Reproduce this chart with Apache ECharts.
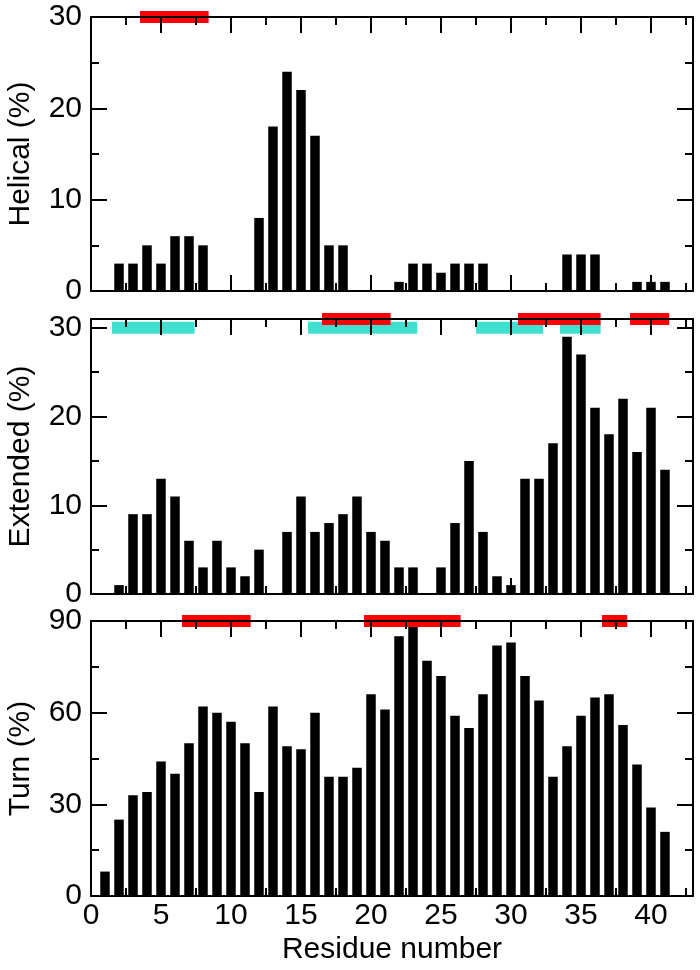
<!DOCTYPE html>
<html>
<head>
<meta charset="utf-8">
<script src="https://cdn.jsdelivr.net/npm/echarts@6/dist/echarts.min.js"></script>
<style>
  html, body { margin: 0; padding: 0; background: #fff; }
  #main { width: 700px; height: 970px; }
</style>
</head>
<body>
<div id="main"></div>
<script>
// residue numbers
const residues = [1,2,3,4,5,6,7,8,9,10,11,12,13,14,15,16,17,18,19,20,21,22,23,24,25,26,27,28,29,30,31,32,33,34,35,36,37,38,39,40,41];
// percentages per residue
const helical  = [0,3,3,5,3,6,6,5,0,0,0,8,18,24,22,17,5,5,0,0,0,1,3,3,2,3,3,3,0,0,0,0,0,4,4,4,0,0,1,1,1];
const extended = [0,1,9,9,13,11,6,3,6,3,2,5,0,7,11,7,8,9,11,7,6,3,3,0,3,8,15,7,2,1,13,13,17,29,27,21,18,22,16,21,14];
const turn     = [8,25,33,34,44,40,50,62,60,57,50,34,62,49,48,60,39,39,42,66,61,85,88,77,72,59,55,66,82,83,72,64,39,49,59,65,66,56,43,29,21];

// segments [start, end, level]
const helicalRed  = [[3.5, 8.4, 30]];
const extendedRed = [[16.5, 21.4, 31], [30.5, 36.4, 31], [38.5, 41.3, 31]];
const extendedCyan = [[1.5, 7.4, 30], [15.5, 23.3, 30], [27.5, 32.3, 30], [33.5, 36.4, 30]];
const turnRed     = [[6.5, 11.4, 90], [19.5, 26.4, 90], [36.5, 38.3, 90]];

const yMax = [30, 31, 90];
const yMajor = [10, 10, 30];
const yNames = ['Helical (%)', 'Extended (%)', 'Turn (%)'];

const font = 'Liberation Sans, Arial, Helvetica, sans-serif';
const lineStyle = { color: '#000', width: 2 };

const chart = echarts.init(document.getElementById('main'));

let grids = [
  { left: 91, right: 7, top: 17, height: 274, outerBoundsMode: 'none' },
  { left: 91, right: 7, top: 319, height: 275, outerBoundsMode: 'none' },
  { left: 91, right: 7, top: 621, height: 275, outerBoundsMode: 'none' }
];

let xAxes = [];
let yAxes = [];
for (let i = 0; i < 3; i++) {
  ['bottom', 'top'].forEach((pos) => {
    [5, 2.5].forEach((iv) => {
      let major = iv === 5;
      let labels = i === 2 && pos === 'bottom' && major;
      xAxes.push({
        gridIndex: i, type: 'value', min: 0, max: 43, interval: iv, position: pos, z: 5,
        axisLine: { show: major, onZero: false, lineStyle: lineStyle },
        axisTick: { show: true, inside: true, length: major ? 16 : 8, lineStyle: lineStyle },
        splitLine: { show: false },
        axisLabel: { show: labels, showMaxLabel: false, color: '#000', fontSize: 30, fontFamily: font, margin: 5 },
        name: labels ? 'Residue number' : '',
        nameLocation: 'middle', nameGap: 39,
        nameTextStyle: { color: '#000', fontSize: 30, fontFamily: font }
      });
    });
  });
  ['left', 'right'].forEach((pos) => {
    [yMajor[i], yMajor[i] / 2].forEach((iv, k) => {
      let major = k === 0;
      let labels = pos === 'left' && major;
      yAxes.push({
        gridIndex: i, type: 'value', min: 0, max: yMax[i], interval: iv, position: pos, z: 5,
        axisLine: { show: major, onZero: false, lineStyle: lineStyle },
        axisTick: { show: true, inside: true, length: major ? 16 : 8, lineStyle: lineStyle },
        splitLine: { show: false },
        axisLabel: { show: labels, showMaxLabel: yMax[i] % iv === 0, color: '#000', fontSize: 30, fontFamily: font, margin: 9 },
        name: labels ? yNames[i] : '',
        nameLocation: 'middle', nameGap: 55,
        nameTextStyle: { color: '#000', fontSize: 30, fontFamily: font }
      });
    });
  });
}

function segSeries(grid, segs, color) {
  return {
    type: 'custom',
    xAxisIndex: grid * 4, yAxisIndex: grid * 4, z: 3,
    encode: { x: [0, 1], y: 2 },
    data: segs,
    renderItem: function (params, api) {
      const a = api.coord([api.value(0), api.value(2)]);
      const b = api.coord([api.value(1), api.value(2)]);
      return {
        type: 'rect',
        shape: { x: a[0], y: a[1] - 6, width: b[0] - a[0], height: 12 },
        style: { fill: color }
      };
    }
  };
}

function barSeries(grid, vals) {
  return {
    type: 'bar',
    xAxisIndex: grid * 4, yAxisIndex: grid * 4,
    barWidth: 9.5,
    itemStyle: { color: '#000' },
    data: residues.map((r, j) => [r, vals[j]])
  };
}

chart.setOption({
  animation: false,
  grid: grids,
  xAxis: xAxes,
  yAxis: yAxes,
  series: [
    barSeries(0, helical),
    barSeries(1, extended),
    barSeries(2, turn),
    segSeries(0, helicalRed, '#ff0000'),
    segSeries(1, extendedCyan, '#40e0d0'),
    segSeries(1, extendedRed, '#ff0000'),
    segSeries(2, turnRed, '#ff0000')
  ]
});
</script>
</body>
</html>
